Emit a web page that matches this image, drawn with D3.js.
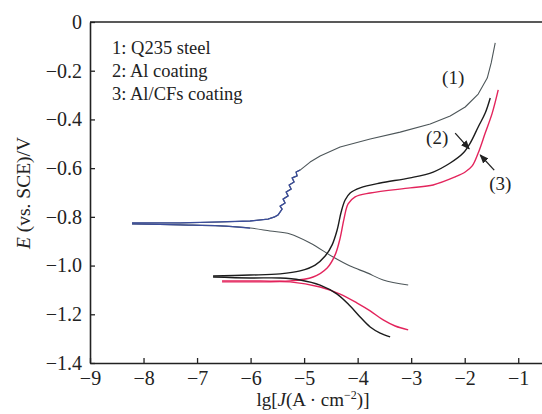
<!DOCTYPE html>
<html>
<head>
<meta charset="utf-8">
<script src="https://cdn.jsdelivr.net/npm/d3@7"></script>
<style>
  body { margin: 0; background: #fff; }
  text { font-family: "Liberation Serif", "Times New Roman", serif; }
</style>
</head>
<body>
<div id="chart"></div>
<script>
// lg J (x) and E (y) pairs
const q235Anodic = [
  [-8.215,-0.825],[-7.318,-0.825],[-6.570,-0.821],[-6.009,-0.817],[-5.673,-0.809],[-5.55,-0.800],
  [-5.486,-0.792],[-5.411,-0.768],[-5.449,-0.756],[-5.355,-0.743],[-5.393,-0.727],[-5.299,-0.714],
  [-5.336,-0.698],[-5.243,-0.686],[-5.280,-0.669],[-5.187,-0.657],[-5.224,-0.640],[-5.131,-0.632],
  [-5.150,-0.616],[-5.075,-0.608],
  [-4.888,-0.575],[-4.701,-0.550],[-4.327,-0.513],[-3.766,-0.480],[-3.206,-0.452],[-2.645,-0.419],
  [-2.271,-0.386],[-1.991,-0.349],[-1.748,-0.296],[-1.579,-0.230],[-1.505,-0.168],[-1.430,-0.086]
]
const q235Cathodic = [
  [-8.215,-0.829],[-7.318,-0.833],[-6.570,-0.837],[-6.009,-0.846],[-5.636,-0.858],[-5.262,-0.870],
  [-4.888,-0.907],[-4.458,-0.965],[-4.140,-1.002],[-3.822,-1.030],[-3.523,-1.059],[-3.056,-1.080]
]
const alAnodic = [
  [-6.701,-1.043],[-6.009,-1.039],[-5.449,-1.034],[-5.075,-1.022],[-4.794,-0.998],[-4.607,-0.961],
  [-4.477,-0.915],[-4.383,-0.854],[-4.308,-0.780],[-4.234,-0.731],[-4.140,-0.702],[-3.953,-0.681],
  [-3.579,-0.661],[-3.019,-0.640],[-2.589,-0.616],[-2.271,-0.579],[-2.028,-0.538],[-1.897,-0.497],
  [-1.748,-0.431],[-1.617,-0.374],[-1.523,-0.312]
]
const alCathodic = [
  [-6.701,-1.047],[-6.009,-1.051],[-5.449,-1.051],[-5.075,-1.059],[-4.701,-1.080],[-4.383,-1.117],
  [-4.140,-1.166],[-3.953,-1.211],[-3.766,-1.252],[-3.579,-1.277],[-3.393,-1.293]
]
const alcfAnodic = [
  [-6.533,-1.063],[-5.822,-1.063],[-5.262,-1.063],[-4.832,-1.047],[-4.570,-1.010],[-4.421,-0.956],
  [-4.327,-0.887],[-4.252,-0.805],[-4.178,-0.747],[-4.047,-0.718],[-3.766,-0.702],[-3.019,-0.681],
  [-2.589,-0.669],[-2.178,-0.636],[-1.991,-0.616],[-1.860,-0.591],[-1.748,-0.538],[-1.617,-0.456],
  [-1.486,-0.374],[-1.374,-0.279]
]
const alcfCathodic = [
  [-6.533,-1.067],[-5.822,-1.067],[-5.262,-1.067],[-4.701,-1.088],[-4.327,-1.117],[-4.009,-1.154],
  [-3.766,-1.186],[-3.523,-1.223],[-3.299,-1.248],[-3.056,-1.264]
]

const xTicks = [-9, -8, -7, -6, -5, -4, -3, -2, -1]
const yTicks = [-1.4, -1.2, -1.0, -0.8, -0.6, -0.4, -0.2, 0]
const legendLines = ["1: Q235 steel", "2: Al coating", "3: Al/CFs coating"]

// chart dimensions
let dimensions = {
  width: 542,
  height: 414,
  margin: { top: 22, right: -3, bottom: 51, left: 90 },
}
dimensions.boundedWidth = dimensions.width - dimensions.margin.left - dimensions.margin.right
dimensions.boundedHeight = dimensions.height - dimensions.margin.top - dimensions.margin.bottom

const wrapper = d3.select("#chart")
  .append("svg")
    .attr("width", dimensions.width)
    .attr("height", dimensions.height)

const bounds = wrapper.append("g")
  .attr("transform", `translate(${dimensions.margin.left},${dimensions.margin.top})`)

// scales
const xScale = d3.scaleLinear()
  .domain([-9, -0.5])
  .range([0, dimensions.boundedWidth])

const yScale = d3.scaleLinear()
  .domain([-1.4, 0])
  .range([dimensions.boundedHeight, 0])

const lineGenerator = d3.line()
  .x(d => xScale(d[0]))
  .y(d => yScale(d[1]))
  .curve(d3.curveMonotoneY)

const smoothLine = d3.line()
  .x(d => xScale(d[0]))
  .y(d => yScale(d[1]))
  .curve(d3.curveCatmullRom.alpha(0.5))

// curves
const curves = [
  { data: q235Cathodic, color: "#4d5659", width: 1.1 },
  { data: q235Anodic, color: "#4d5659", width: 1.1 },
  { data: alcfCathodic, color: "#e3245c", width: 1.4 },
  { data: alcfAnodic, color: "#e3245c", width: 1.4 },
  { data: alCathodic, color: "#1c1c1c", width: 1.4 },
  { data: alAnodic, color: "#1c1c1c", width: 1.4 },
]
bounds.selectAll(".curve")
  .data(curves)
  .join("path")
    .attr("class", "curve")
    .attr("d", c => (c.data === q235Anodic ? d3.line().x(d => xScale(d[0])).y(d => yScale(d[1])) : smoothLine)(c.data))
    .attr("fill", "none")
    .attr("stroke", c => c.color)
    .attr("stroke-width", c => c.width)
    .attr("stroke-linejoin", "round")

// blue-ish part of the steel curve near Ecorr
const straightLine = d3.line()
  .x(d => xScale(d[0]))
  .y(d => yScale(d[1]))
bounds.append("path")
  .attr("d", straightLine(q235Anodic.filter(d => d[0] < -4.95)))
  .attr("fill", "none")
  .attr("stroke", "#3b4d9c")
  .attr("stroke-width", 1.3)
  .attr("stroke-linejoin", "round")
bounds.append("path")
  .attr("d", smoothLine(q235Cathodic.filter(d => d[0] < -6)))
  .attr("fill", "none")
  .attr("stroke", "#3b4d9c")
  .attr("stroke-width", 1.3)

// axes
const xAxisGenerator = d3.axisBottom(xScale)
  .tickValues(xTicks)
  .tickSizeInner(-5)
  .tickSizeOuter(0)
  .tickPadding(8)
  .tickFormat(d3.format("d"))

const xAxis = bounds.append("g")
  .attr("transform", `translate(0,${dimensions.boundedHeight})`)
  .call(xAxisGenerator)

const yAxisGenerator = d3.axisLeft(yScale)
  .tickValues(yTicks)
  .tickSizeInner(-5)
  .tickSizeOuter(0)
  .tickPadding(8)
  .tickFormat(d => d === 0 ? "0" : d3.format(".1f")(d))

const yAxis = bounds.append("g")
  .call(yAxisGenerator)

for (const ax of [xAxis, yAxis]) {
  ax.select(".domain").attr("stroke", "#222").attr("stroke-width", 1.6)
  ax.selectAll(".tick line").attr("stroke", "#222").attr("stroke-width", 1.3)
  ax.selectAll(".tick text")
    .attr("fill", "#222")
    .style("font-family", "'Liberation Serif', serif")
    .style("font-size", "20px")
}

// top frame line
bounds.append("line")
  .attr("x1", 0).attr("x2", dimensions.boundedWidth)
  .attr("y1", 0).attr("y2", 0)
  .attr("stroke", "#222")
  .attr("stroke-width", 1.6)

// legend text
bounds.selectAll(".legend")
  .data(legendLines)
  .join("text")
    .attr("class", "legend")
    .attr("x", 22)
    .attr("y", (d, i) => 32 + i * 23)
    .attr("fill", "#222")
    .style("font-size", "18.5px")
    .text(d => d)

// curve labels and arrows
wrapper.append("defs").append("marker")
  .attr("id", "arrow")
  .attr("viewBox", "0 0 10 10")
  .attr("refX", 9).attr("refY", 5)
  .attr("markerWidth", 7).attr("markerHeight", 7)
  .attr("orient", "auto")
  .append("path")
    .attr("d", "M0,1 L10,5 L0,9 Z")
    .attr("fill", "#222")

const labels = [
  { text: "(1)", at: [-2.215, -0.226] },
  { text: "(2)", at: [-2.514, -0.472] },
  { text: "(3)", at: [-1.336, -0.661] },
]
bounds.selectAll(".clabel")
  .data(labels)
  .join("text")
    .attr("class", "clabel")
    .attr("x", d => xScale(d.at[0]))
    .attr("y", d => yScale(d.at[1]))
    .attr("dy", "0.35em")
    .attr("text-anchor", "middle")
    .attr("fill", "#222")
    .style("font-size", "19px")
    .text(d => d.text)

const arrows = [
  { from: [-2.178, -0.456], to: [-1.916, -0.521] },
  { from: [-1.449, -0.608], to: [-1.710, -0.546] },
]
bounds.selectAll(".arrow")
  .data(arrows)
  .join("line")
    .attr("class", "arrow")
    .attr("x1", d => xScale(d.from[0])).attr("y1", d => yScale(d.from[1]))
    .attr("x2", d => xScale(d.to[0])).attr("y2", d => yScale(d.to[1]))
    .attr("stroke", "#222")
    .attr("stroke-width", 1.3)
    .attr("marker-end", "url(#arrow)")

// axis titles
const xTitle = wrapper.append("text")
  .attr("x", 313)
  .attr("y", 406)
  .attr("text-anchor", "middle")
  .attr("fill", "#222")
  .style("font-size", "19px")
xTitle.append("tspan").text("lg[")
xTitle.append("tspan").style("font-style", "italic").text("J")
xTitle.append("tspan").text("(A · cm")
xTitle.append("tspan").attr("dy", -7).style("font-size", "12px").text("−2")
xTitle.append("tspan").attr("dy", 7).text(")]")

const yTitle = wrapper.append("text")
  .attr("transform", `translate(30,${193}) rotate(-90)`)
  .attr("text-anchor", "middle")
  .attr("fill", "#222")
  .style("font-size", "19.5px")
yTitle.append("tspan").style("font-style", "italic").text("E")
yTitle.append("tspan").text(" (vs. SCE)/V")
</script>
</body>
</html>
